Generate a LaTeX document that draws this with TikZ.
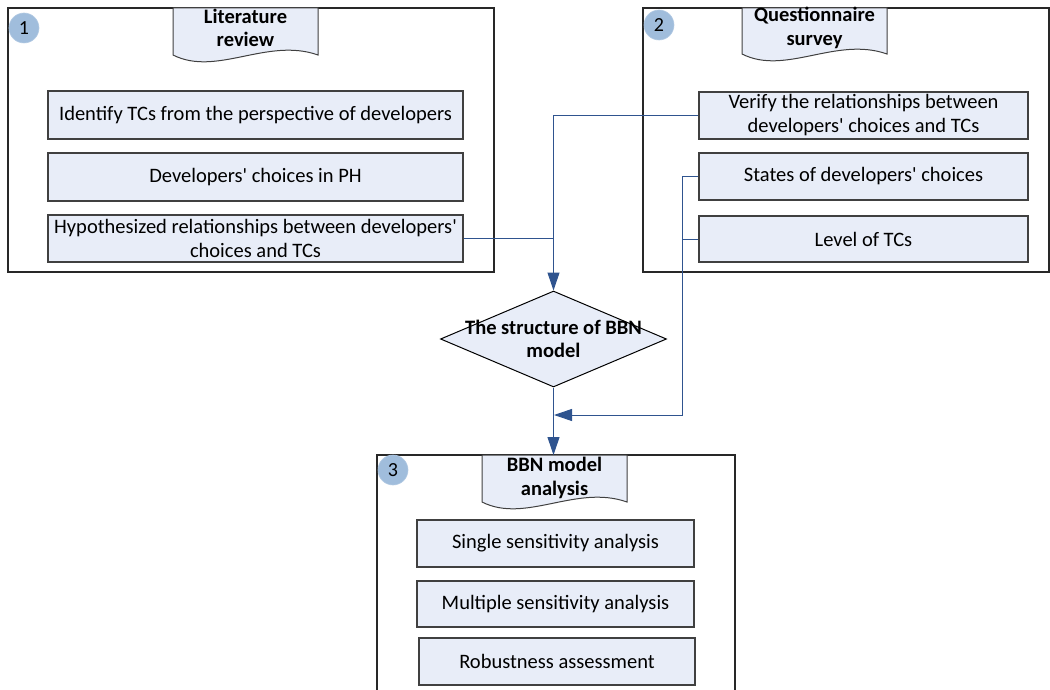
\documentclass[tikz,border=0pt]{standalone}
\usepackage{fontspec}
\setmainfont{Carlito}
\usetikzlibrary{arrows.meta,shapes.geometric}

\definecolor{boxfill}{RGB}{232,237,248}
\definecolor{boxline}{RGB}{64,64,64}
\definecolor{panelline}{RGB}{40,40,40}
\definecolor{flow}{RGB}{47,84,143}
\definecolor{badge}{RGB}{160,189,220}

% document shape: straight top and sides, wavy bottom edge
\newcommand\docshape[4]{%
  \draw[docstyle] (#1,#3) -- (#1,#4)
    .. controls ({#1+0.3*(#2-#1)},{#4+22}) and ({#1+0.65*(#2-#1)},{#4-18}) .. (#2,#4)
    -- (#2,#3) -- cycle;}
\newcommand\apos{\textquotesingle}

\tikzset{
  panel/.style={draw=panelline, line width=1.1pt},
  docstyle/.style={draw=boxline, fill=boxfill, line width=1pt},
  taskbox/.style={draw=boxline, fill=boxfill, line width=1.1pt, rectangle,
    inner sep=0pt, align=center, font=\fontsize{20.5}{24}\selectfont},
  header/.style={align=center, font=\fontsize{20.5}{23.5}\selectfont\bfseries},
  badgecirc/.style={circle, fill=badge, draw=badge!80!white, line width=0.6pt,
    minimum size=30pt, inner sep=0pt, font=\fontsize{20}{22}\selectfont},
  flowline/.style={draw=flow, line width=1pt},
  flowarrow/.style={flowline, -{Triangle[length=18pt,width=12pt]}},
}

\begin{document}
\begin{tikzpicture}[x=1pt, y=-1pt]
\useasboundingbox (0,0) rectangle (1050,690);

% ---- panel 1: literature review ----
\draw[panel] (8,8) rectangle (494,272);
\docshape{173}{318}{8}{55}
\node[header] (lit) at (245.5,28) {Literature\\review};
\node[badgecirc] (b1) at (24,28) {1};
\node[taskbox, minimum width=415pt, minimum height=48pt] (tc) at (255.5,115)
  {Identify TCs from the perspective of developers};
\node[taskbox, minimum width=415pt, minimum height=48pt] (dc) at (255.5,177)
  {Developers\apos{} choices in PH};
\node[taskbox, minimum width=415pt, minimum height=47pt] (hyp) at (255.5,238.5)
  {Hypothesized relationships between developers\apos\\choices and TCs};

% ---- panel 2: questionnaire survey ----
\draw[panel] (643,8) rectangle (1049,272);
\docshape{742}{887}{8}{54}
\node[header] (qs) at (814.5,28) {Questionnaire\\survey};
\node[badgecirc] (b2) at (659,25) {2};
\node[taskbox, minimum width=329pt, minimum height=47pt] (ver) at (863.5,115.5)
  {Verify the relationships between\\developers\apos{} choices and TCs};
\node[taskbox, minimum width=329pt, minimum height=47pt] (st) at (863.5,176.5)
  {States of developers\apos{} choices};
\node[taskbox, minimum width=329pt, minimum height=46pt] (lv) at (863.5,239)
  {Level of TCs};

% ---- decision: structure of the BBN model ----
\node[diamond, draw=black, fill=boxfill, line width=1pt, inner sep=0pt,
  minimum width=226pt, minimum height=96pt] (dia) at (553.5,339) {};
\node[header] (diatext) at (dia) {The structure of BBN\\model};

% ---- panel 3: BBN model analysis ----
\draw[panel] (377,690) -- (377,455) -- (735,455) -- (735,690);
\coordinate (p3top) at (553.5,455);
\docshape{482}{627}{455}{502}
\node[header] (bbn) at (554.5,478) {BBN model\\analysis};
\node[badgecirc] (b3) at (393,470) {3};
\node[taskbox, minimum width=277pt, minimum height=47pt] (ssa) at (555.5,543.5)
  {Single sensitivity analysis};
\node[taskbox, minimum width=277pt, minimum height=46pt] (msa) at (555.5,604)
  {Multiple sensitivity analysis};
\node[taskbox, minimum width=276pt, minimum height=47pt] (rob) at (557,661.5)
  {Robustness assessment};

% ---- connectors ----
\draw[flowarrow] (ver.west) -| (dia.north);
\draw[flowline] (hyp.east) -- (hyp.east -| dia.north);
\draw[flowarrow] (dia.south) -- (p3top);
\coordinate (rail) at (682,176.5);
\coordinate (join) at (554,415);
\draw[flowarrow] (st.west) -- (rail) |- (join);
\draw[flowline] (lv.west) -- (lv.west -| rail);
\end{tikzpicture}
\end{document}
